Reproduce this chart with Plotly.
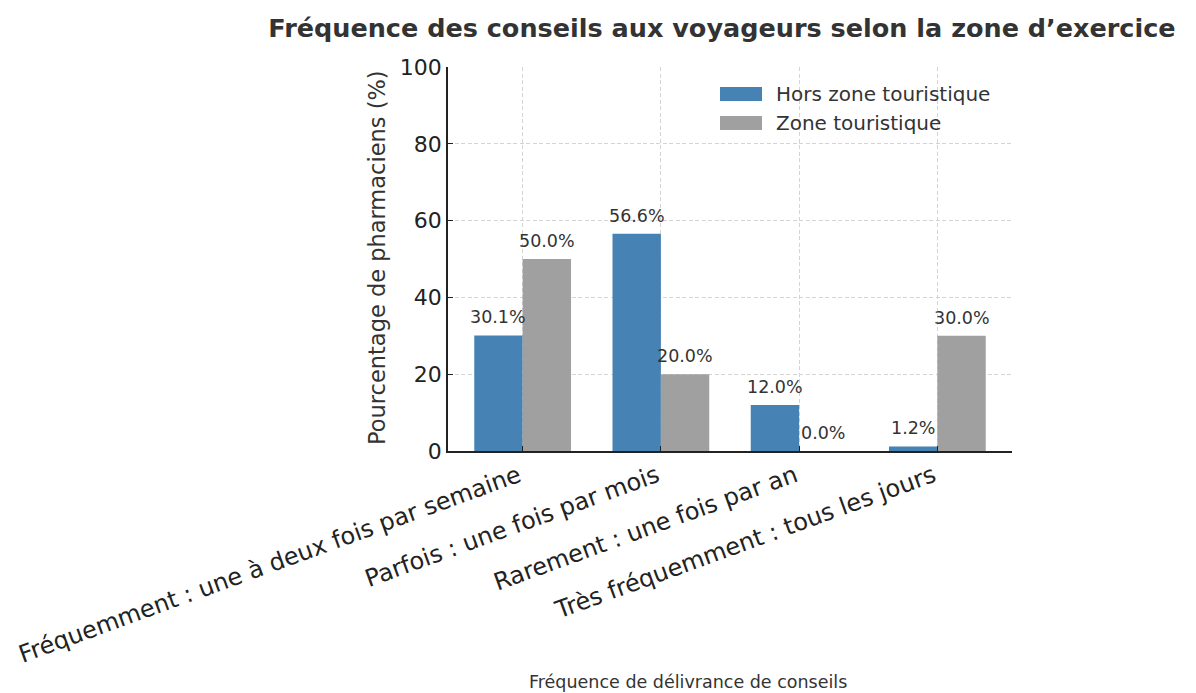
import plotly.graph_objects as go

categories = [
    "Fréquemment : une à deux fois par semaine",
    "Parfois : une fois par mois",
    "Rarement : une fois par an",
    "Très fréquemment : tous les jours",
]
hors_zone = [30.1, 56.6, 12.0, 1.2]
zone_tour = [50.0, 20.0, 0.0, 30.0]
series_names = ["Hors zone touristique", "Zone touristique"]
y_ticks = [0, 20, 40, 60, 80, 100]

FONT = "DejaVu Sans"
BLUE = "#4682B4"
GREY = "#A0A0A0"
W, H = 1196, 693
L, R, T, B = 448, 184, 67, 242
plot_w = W - L - R
plot_h = H - T - B
x_lo, x_hi = -0.54, 3.54
bar_w = 0.35
px_per_cat = plot_w / (x_hi - x_lo)

fig = go.Figure()
annotations = []
series = [(series_names[0], hors_zone, BLUE, -1), (series_names[1], zone_tour, GREY, 1)]
for name, vals, col, side in series:
    fig.add_trace(go.Bar(
        x=categories, y=vals, name=name, marker=dict(color=col, line=dict(width=0)),
    ))
    for c, v in zip(categories, vals):
        annotations.append(dict(
            x=c, y=v, xref="x", yref="y", text=f"{v:.1f}%", showarrow=False,
            xanchor="center", yanchor="middle", yshift=18,
            xshift=side * bar_w / 2 * px_per_cat,
            font=dict(family=FONT, size=17.5, color="#333333"),
        ))

# wide legend swatches (matching the reference style), drawn over the legend squares
legend_row0, legend_row_step = 94, 29
shapes = []
for i, (_, _, col, _) in enumerate(series):
    cy = legend_row0 + i * legend_row_step
    shapes.append(dict(
        type="rect", xref="paper", yref="paper", layer="above",
        x0=(720 - L) / plot_w, x1=(762 - L) / plot_w,
        y0=(H - B - (cy + 7)) / plot_h, y1=(H - B - (cy - 7)) / plot_h,
        fillcolor=col, line=dict(width=0),
    ))

annotations += [
    dict(text="Pourcentage de pharmaciens (%)", textangle=-90,
         x=(377 - L) / plot_w, y=(H - B - 258) / plot_h, xref="paper", yref="paper",
         xanchor="center", yanchor="middle", showarrow=False,
         font=dict(family=FONT, size=22.5, color="#333333")),
    dict(text="Fréquence de délivrance de conseils",
         x=(688 - L) / plot_w, y=(H - B - 682) / plot_h, xref="paper", yref="paper",
         xanchor="center", yanchor="middle", showarrow=False,
         font=dict(family=FONT, size=17.5, color="#333333")),
]

fig.update_layout(
    width=W, height=H,
    margin=dict(l=L, r=R, t=T, b=B, autoexpand=False),
    paper_bgcolor="white", plot_bgcolor="white",
    barmode="group", bargap=1 - 2 * bar_w, bargroupgap=0,
    font=dict(family=FONT, color="#222222"),
    title=dict(
        text="<b>Fréquence des conseils aux voyageurs selon la zone d’exercice</b>",
        x=722 / W, xref="container", xanchor="center",
        y=1 - 28 / H, yref="container", yanchor="middle",
        font=dict(family=FONT, size=25.5, color="#333333"),
    ),
    legend=dict(
        x=(736 - L) / plot_w, y=(H - B - 74) / plot_h, xanchor="left", yanchor="top",
        bgcolor="rgba(0,0,0,0)", font=dict(family=FONT, size=20, color="#333333"),
        tracegroupgap=4,
    ),
    xaxis=dict(
        type="category", range=[x_lo, x_hi], automargin=False,
        tickangle=-20, tickfont=dict(family=FONT, size=24, color="#222222"),
        ticklabelshift=-4,
        showline=True, linecolor="#222222", linewidth=1.5,
        ticks="inside", ticklen=5, tickcolor="#222222",
        showgrid=True, gridcolor="#d4d4d4", griddash="4px,2.5px", gridwidth=0.8,
        zeroline=False,
    ),
    yaxis=dict(
        range=[0, 100], tickvals=y_ticks, automargin=False,
        tickfont=dict(family=FONT, size=22, color="#222222"),
        showline=True, linecolor="#222222", linewidth=1.5,
        ticks="inside", ticklen=5, tickcolor="#222222",
        showgrid=True, gridcolor="#d4d4d4", griddash="4px,2.5px", gridwidth=0.8,
        zeroline=False,
    ),
    annotations=annotations,
    shapes=shapes,
)

fig.write_html("out.html", config={"displayModeBar": False},
               post_script="document.body.style.margin='0';")
